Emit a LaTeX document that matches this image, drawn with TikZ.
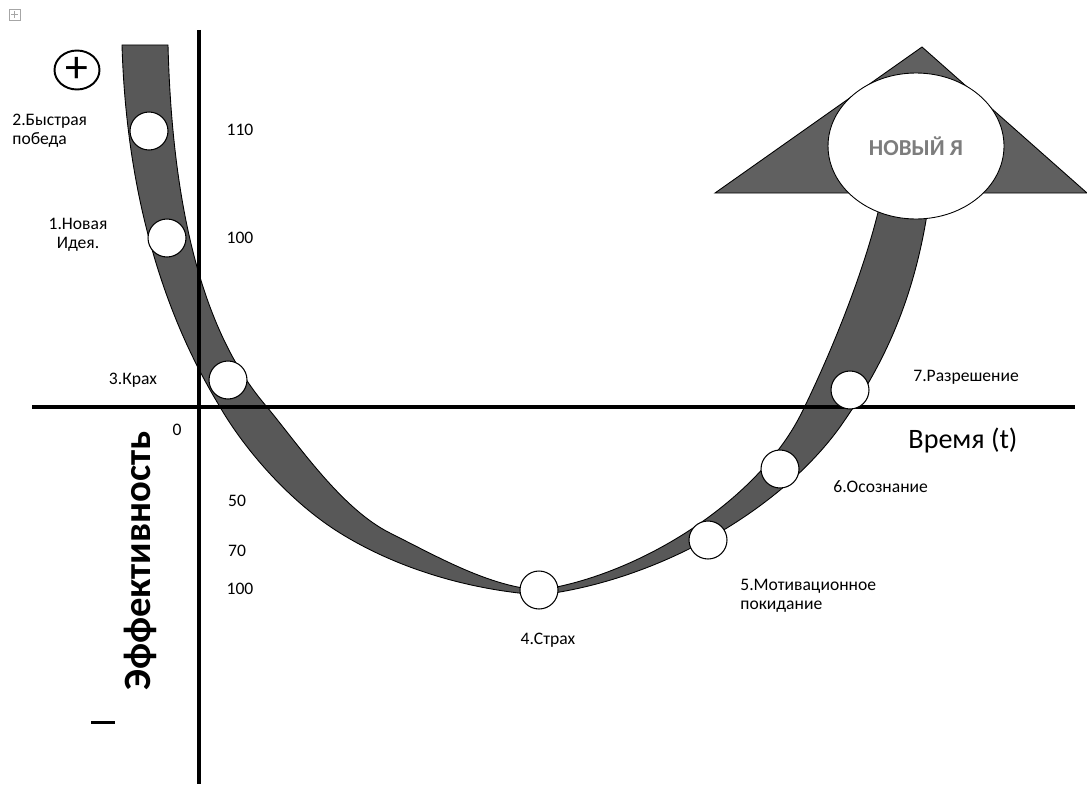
\documentclass[tikz,border=0pt]{standalone}
\usepackage{fontspec}
\setmainfont{Carlito}
\usetikzlibrary{shapes.geometric}
\definecolor{bandgray}{RGB}{88,88,88}
\definecolor{headgray}{RGB}{96,96,96}
\definecolor{textgray}{RGB}{125,125,125}
\begin{document}
\begin{tikzpicture}[x=0.02cm,y=-0.02cm,
  stage/.style={circle,draw=black,line width=0.6pt,fill=white,minimum size=0.76cm,inner sep=0pt},
  lbl/.style={font=\fontsize{10}{11}\selectfont,inner sep=0pt},
  axisline/.style={line width=2.8pt,black},
  outlined/.style={draw=black,line width=0.5pt}]
\useasboundingbox (0,0) rectangle (1087,784);
% move handle icon
\draw[gray!70,line width=0.4pt] (9,9) rectangle (20,20);
\draw[gray!70,line width=0.4pt] (14.5,11) -- (14.5,18) (11,14.5) -- (18,14.5);
% band
\filldraw[fill=bandgray,outlined] (122,45) -- (168,45)
  .. controls (172,200) and (200,330) .. (267,407)
  .. controls (300,447) and (342,509) .. (390,533)
  .. controls (438,557) and (490,587) .. (540,590)
  .. controls (640,575) and (760,500) .. (803,410)
  .. controls (830,355) and (870,260) .. (884,185)
  -- (931,185)
  .. controls (918,300) and (880,370) .. (840,427)
  .. controls (780,510) and (660,580) .. (540,595)
  .. controls (470,590) and (398,569) .. (340,533)
  .. controls (290,502) and (245,450) .. (220,407)
  .. controls (195,365) and (128,250) .. (122,45)
  -- cycle;
% arrow head
\draw[outlined,fill=headgray] (715,193) -- (922,47) -- (1087,193) -- cycle;
\node[ellipse,outlined,fill=white,minimum width=3.52cm,minimum height=2.92cm,inner sep=0pt,
  font=\fontsize{13}{13}\selectfont\bfseries,text=textgray] (newme) at (916,146) {НОВЫЙ Я};
% axes
\draw[axisline] (199,30) -- (199,784);
\draw[axisline] (32,407) -- (1075,407);
% stage circles
\node[stage] (s2) at (149,131) {};
\node[stage] (s1) at (167,238) {};
\node[stage] (s3) at (228,380) {};
\node[stage] (s4) at (539,590) {};
\node[stage] (s5) at (708,540) {};
\node[stage] (s6) at (780,469) {};
\node[stage] (s7) at (850,390) {};
% plus / minus
\node[ellipse,draw=black,line width=1.1pt,minimum width=0.9cm,minimum height=0.78cm,inner sep=0pt,
  font=\fontsize{26}{26}\selectfont] (plus) at (77,70) {+};
\node[fill=black,minimum width=0.48cm,minimum height=0.06cm,inner sep=0pt] (minus) at (103,722) {};
% labels
\node[lbl,anchor=west,align=left] (l2) at (12,131) {2.Быстрая\\победа};
\node[lbl,align=center] (l1) at (78,235) {1.Новая\\Идея.};
\node[lbl] (l3) at (133,380) {3.Крах};
\node[lbl] (l4) at (548,640) {4.Страх};
\node[lbl,anchor=west,align=left] (l5) at (740,596) {5.Мотивационное\\покидание};
\node[lbl,anchor=west] (l6) at (833,487) {6.Осознание};
\node[lbl,anchor=west] (l7) at (913,377) {7.Разрешение};
\node[lbl] (t110) at (240,130) {110};
\node[lbl] (t100a) at (240,238) {100};
\node[lbl] (t0) at (177,430) {0};
\node[lbl] (t50) at (237,501) {50};
\node[lbl] (t70) at (237,551) {70};
\node[lbl] (t100b) at (240,589) {100};
\node[font=\fontsize{16}{16}\selectfont,inner sep=0pt] (time) at (963,440) {Время (t)};
\node[font=\fontsize{22}{22}\selectfont\bfseries,inner sep=0pt,rotate=90] (eff) at (140,561) {Эффективность};
\end{tikzpicture}
\end{document}
